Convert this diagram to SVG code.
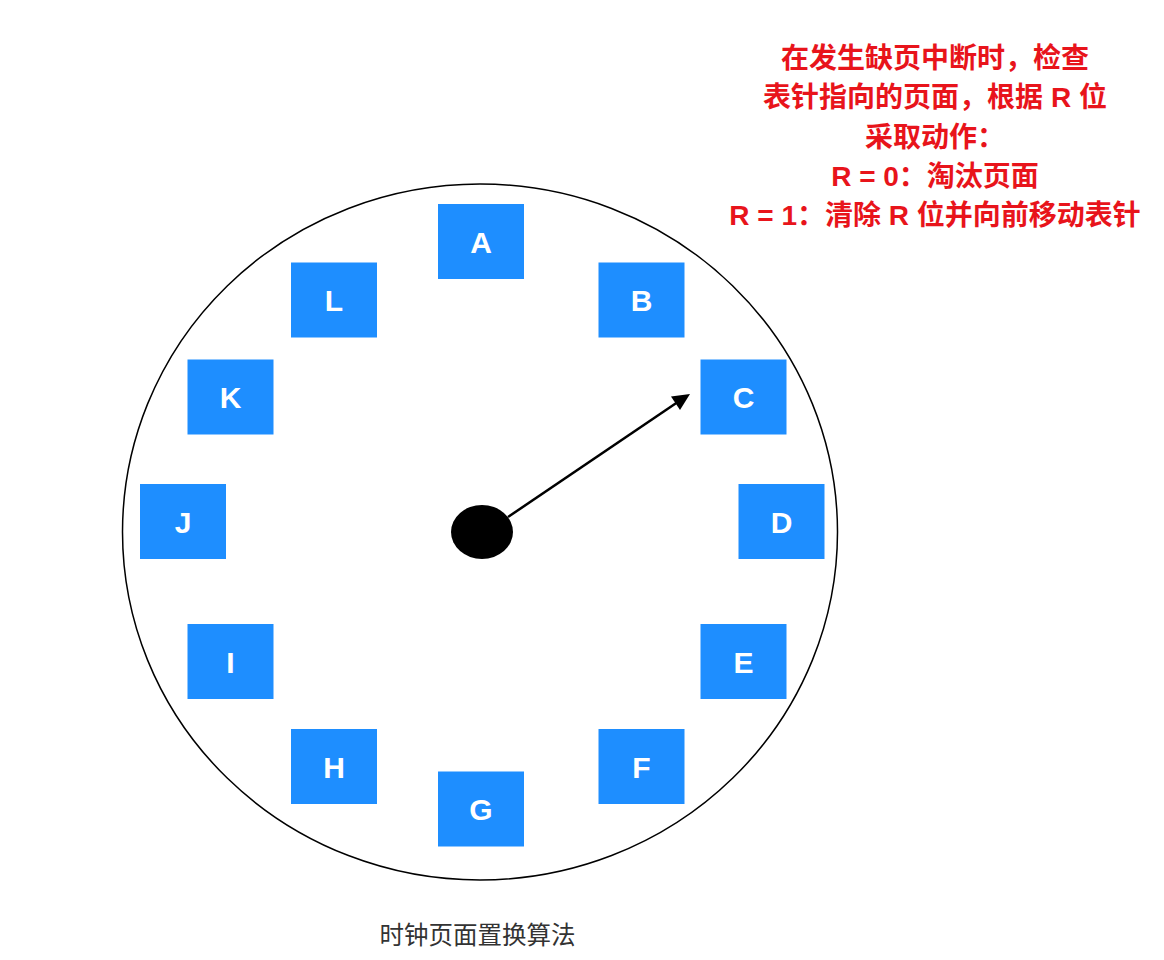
<svg xmlns="http://www.w3.org/2000/svg" width="1164" height="960" viewBox="0 0 1164 960">
<style>
.box rect{fill:#1E8EFF}
.box text{fill:#fff;font-family:"Liberation Sans",Arial,sans-serif;font-size:30px;font-weight:bold;text-anchor:middle}
.note{fill:#E8141B;font-family:"Liberation Sans","Noto Sans CJK SC",sans-serif;font-size:28px;font-weight:bold;text-anchor:middle}
.cap{fill:#333;font-family:"Noto Sans CJK SC",sans-serif;font-size:24.5px;text-anchor:middle}
</style>
<rect width="1164" height="960" fill="#fff"/>
<g id="clock-face">
<ellipse cx="480" cy="532" rx="357.5" ry="348" fill="none" stroke="#000" stroke-width="1.5"/>
</g>
<g id="hub">
<ellipse cx="482" cy="532" rx="31" ry="27" fill="#000"/>
</g>
<g id="connectors">
<line x1="508" y1="517" x2="680" y2="400.5" stroke="#000" stroke-width="2.5"/>
<path d="M690,394 L671,396.5 L680,410 z" fill="#000"/>
</g>
<g id="A" class="box"><rect x="438" y="204" width="86" height="75"/><text x="481" y="252.5">A</text></g>
<g id="B" class="box"><rect x="598.5" y="262.5" width="86" height="75"/><text x="641.5" y="311">B</text></g>
<g id="C" class="box"><rect x="700.5" y="359.5" width="86" height="75"/><text x="743.5" y="408">C</text></g>
<g id="D" class="box"><rect x="738.5" y="484" width="86" height="75"/><text x="781.5" y="532.5">D</text></g>
<g id="E" class="box"><rect x="700.5" y="624" width="86" height="75"/><text x="743.5" y="672.5">E</text></g>
<g id="F" class="box"><rect x="598.5" y="729" width="86" height="75"/><text x="641.5" y="777.5">F</text></g>
<g id="G" class="box"><rect x="438" y="771.5" width="86" height="75"/><text x="481" y="820">G</text></g>
<g id="H" class="box"><rect x="291" y="729" width="86" height="75"/><text x="334" y="777.5">H</text></g>
<g id="I" class="box"><rect x="187.5" y="624" width="86" height="75"/><text x="230.5" y="672.5">I</text></g>
<g id="J" class="box"><rect x="140" y="484" width="86" height="75"/><text x="183" y="532.5">J</text></g>
<g id="K" class="box"><rect x="187.5" y="359.5" width="86" height="75"/><text x="230.5" y="408">K</text></g>
<g id="L" class="box"><rect x="291" y="262.5" width="86" height="75"/><text x="334" y="311">L</text></g>
<g id="note">
<text class="note" x="935" y="68">在发生缺页中断时，检查</text>
<text class="note" x="935" y="107">表针指向的页面，根据 R 位</text>
<text class="note" x="935" y="146.5">采取动作：</text>
<text class="note" x="935" y="185.5">R = 0：淘汰页面</text>
<text class="note" x="935" y="225">R = 1：清除 R 位并向前移动表针</text>
</g>
<g id="caption">
<text class="cap" x="477.5" y="944">时钟页面置换算法</text>
</g>
</svg>
